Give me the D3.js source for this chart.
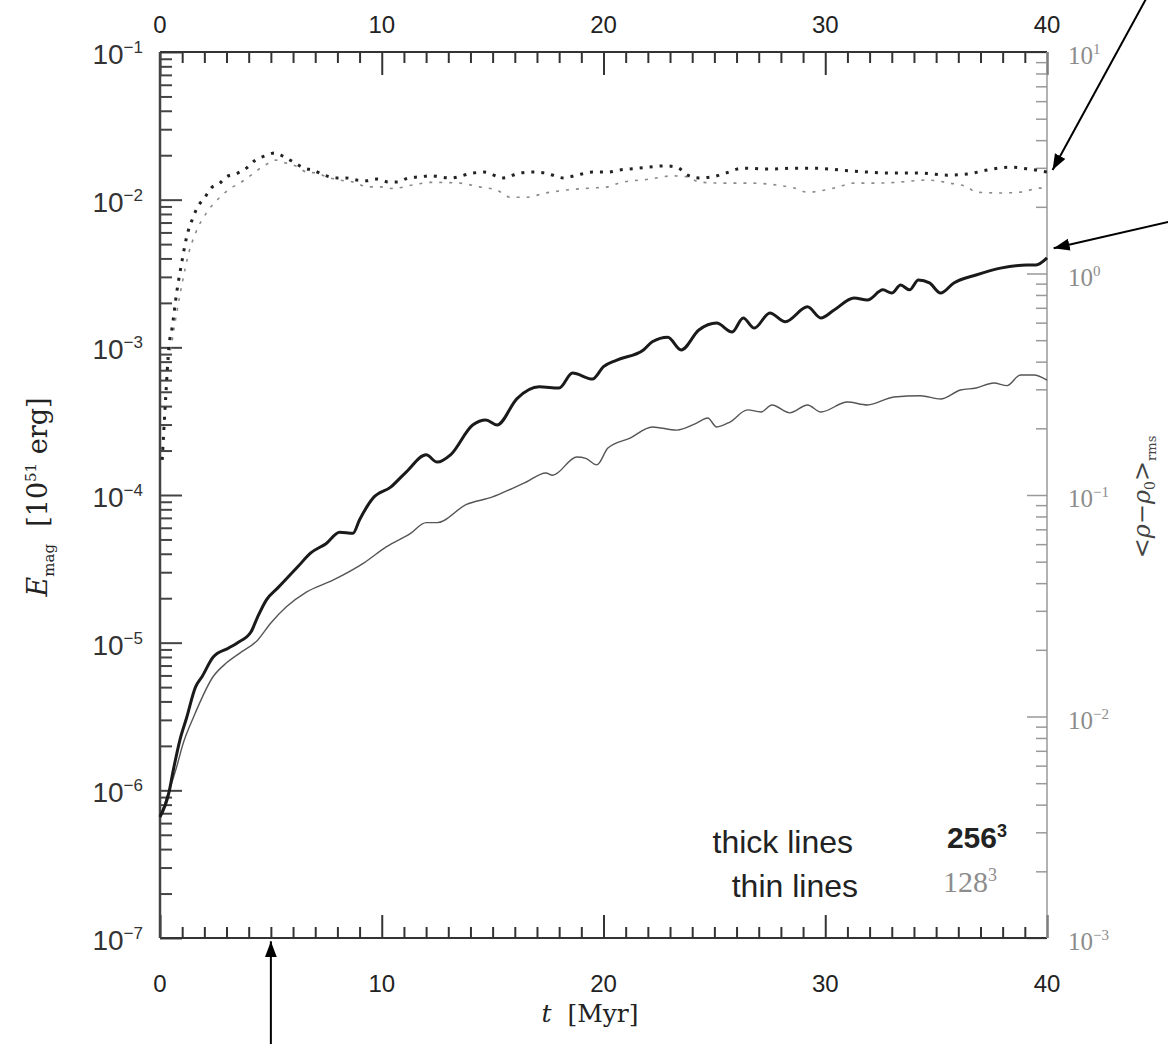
<!DOCTYPE html>
<html>
<head>
<meta charset="utf-8">
<script src="https://cdn.jsdelivr.net/npm/d3@7"></script>
<style>
	body { margin: 0; background: #fff; }
	svg { display: block; }
</style>
</head>
<body>
<div class="canvas"></div>
<script>
// magnetic energy, thick lines = 256^3, thin lines = 128^3 (left axis)
const thickTime = [0,0.4,0.6,0.9,1.2,1.6,1.9,2.4,3.1,3.5,4.1,4.4,4.8,5.3,6.2,6.8,7.5,8.1,8.7,9.0,9.6,10.4,11.1,12.0,12.5,13.1,14.1,14.7,15.2,16.1,17.1,18.0,18.6,19.5,20.0,20.6,21.8,22.2,22.9,23.5,24.3,25.1,25.8,26.3,26.8,27.5,28.2,29.2,29.8,30.4,31.3,31.9,32.6,33.0,33.4,33.8,34.2,34.7,35.2,35.8,36.8,37.9,39.1,39.5,40];
const thickEmag = [6.6e-7,9.6e-7,1.37e-6,2.2e-6,3.1e-6,5.0e-6,5.9e-6,8.0e-6,9.2e-6,1.0e-5,1.18e-5,1.49e-5,1.95e-5,2.34e-5,3.25e-5,4.05e-5,4.7e-5,5.6e-5,5.5e-5,6.8e-5,9.5e-5,1.13e-4,1.43e-4,1.87e-4,1.67e-4,1.87e-4,2.98e-4,3.22e-4,2.98e-4,4.5e-4,5.4e-4,5.3e-4,6.7e-4,6.1e-4,7.4e-4,8.2e-4,9.6e-4,1.09e-3,1.17e-3,9.6e-4,1.31e-3,1.46e-3,1.27e-3,1.58e-3,1.35e-3,1.71e-3,1.49e-3,1.88e-3,1.58e-3,1.79e-3,2.16e-3,2.09e-3,2.45e-3,2.33e-3,2.64e-3,2.45e-3,2.86e-3,2.73e-3,2.33e-3,2.73e-3,3.09e-3,3.44e-3,3.61e-3,3.61e-3,4.03e-3];

const thinTime = [0,0.75,1.05,1.5,2.4,3.0,3.6,4.4,5.0,5.7,6.6,7.8,9.2,10.2,11.3,12.0,12.5,13.8,15.0,15.9,16.5,17.4,17.7,18.8,19.2,19.7,20.2,21.2,22.2,23.3,24.2,24.7,25.1,25.7,26.5,27.1,27.6,28.4,29.2,29.8,31.0,31.9,33.1,34.3,35.2,36.1,36.8,37.6,38.2,38.8,39.4,40];
const thinEmag = [6.6e-7,1.44e-6,2.09e-6,3.1e-6,5.9e-6,7.3e-6,8.5e-6,1.04e-5,1.36e-5,1.75e-5,2.2e-5,2.65e-5,3.47e-5,4.45e-5,5.5e-5,6.5e-5,6.5e-5,8.6e-5,9.7e-5,1.11e-4,1.22e-4,1.41e-4,1.36e-4,1.81e-4,1.77e-4,1.6e-4,2.08e-4,2.43e-4,2.89e-4,2.75e-4,3.07e-4,3.32e-4,2.89e-4,3.12e-4,3.77e-4,3.65e-4,4.07e-4,3.6e-4,4.07e-4,3.65e-4,4.26e-4,4.07e-4,4.61e-4,4.7e-4,4.47e-4,5.14e-4,5.3e-4,5.74e-4,5.5e-4,6.5e-4,6.5e-4,6.0e-4];

// rms density fluctuation (right axis), dotted lines
const rhoThickTime = [0.1,0.25,0.4,0.55,0.75,1.0,1.2,1.5,1.7,2.0,2.3,2.7,3.0,3.5,3.9,4.3,4.7,5.2,5.6,6.1,6.5,6.9,7.4,8.0,8.4,8.9,9.3,9.8,10.3,10.7,11.2,11.7,12.2,13.1,14.1,14.6,15.5,16.2,16.8,17.4,18.2,18.8,19.5,20.2,20.7,21.6,22.8,23.3,23.8,24.3,24.9,25.5,26.3,27.4,28.6,29.5,30.7,31.9,33.1,34.3,35.5,36.4,37.3,38.3,39.2,40];
const rhoThick = [0.144,0.268,0.466,0.573,0.817,1.15,1.46,1.80,2.0,2.19,2.43,2.56,2.73,2.84,2.99,3.25,3.39,3.50,3.36,3.15,2.99,2.93,2.78,2.70,2.70,2.64,2.62,2.67,2.59,2.59,2.70,2.73,2.76,2.70,2.84,2.87,2.70,2.84,2.87,2.84,2.70,2.78,2.87,2.87,2.93,2.99,3.06,3.02,2.78,2.70,2.73,2.84,2.99,2.96,2.99,2.99,2.93,2.87,2.84,2.84,2.78,2.81,2.93,3.02,2.96,2.87];

const rhoThinTime = [0.1,0.3,0.55,0.75,1.0,1.3,1.6,2.1,2.7,3.2,3.6,4.0,4.4,4.9,5.2,5.7,6.2,6.6,7.1,7.5,8.1,8.7,9.4,9.9,10.5,11.4,12.2,13.5,14.4,15.2,15.8,16.5,17.4,18.3,19.4,20.2,20.7,22.1,23.1,23.8,24.3,25.3,26.5,27.8,28.6,29.2,30.4,31.3,32.5,33.4,34.6,35.6,36.4,36.8,37.9,38.8,39.7,40];
const rhoThin = [0.144,0.33,0.50,0.66,0.905,1.24,1.52,1.88,2.21,2.43,2.56,2.73,2.93,3.15,3.25,3.15,3.03,2.87,2.84,2.73,2.64,2.59,2.46,2.46,2.42,2.51,2.58,2.56,2.46,2.38,2.21,2.21,2.31,2.38,2.43,2.46,2.56,2.67,2.76,2.73,2.59,2.56,2.56,2.51,2.43,2.33,2.43,2.56,2.56,2.59,2.64,2.56,2.46,2.33,2.31,2.33,2.43,2.43];

// tick labels
const xTicks = [0, 10, 20, 30, 40];
const leftExp = [-1, -2, -3, -4, -5, -6, -7];
const rightExp = [1, 0, -1, -2, -3];

// annotation arrows, in data coordinates
const arrows = [
	{x1: 44.55, v1: 18, x2: 40.25, v2: 2.93, axis: 'right'},
	{x1: 45.6, v1: 1.72, x2: 40.3, v2: 1.3, axis: 'right'},
	{x1: 5, v1: 1.9e-8, x2: 5, v2: 9.5e-8, axis: 'left'}
];

const dims = {width: 1168, height: 1044};
const margin = {top: 52, right: 121, bottom: 106, left: 160};
const innerW = dims.width - margin.left - margin.right;
const innerH = dims.height - margin.top - margin.bottom;

const svg = d3.select('.canvas')
	.append('svg')
	.attr('width', dims.width)
	.attr('height', dims.height);

const defs = svg.append('defs');
defs.append('marker')
	.attr('id', 'head')
	.attr('markerUnits', 'userSpaceOnUse')
	.attr('markerWidth', 18).attr('markerHeight', 14)
	.attr('refX', 16).attr('refY', 6)
	.attr('orient', 'auto')
	.append('path')
		.attr('d', 'M0,0 L16,6 L0,12 Z')
		.attr('fill', '#000');

const graph = svg.append('g')
	.attr('transform', `translate(${margin.left}, ${margin.top})`);

const x = d3.scaleLinear().domain([0, 40]).range([0, innerW]);
const yL = d3.scaleLog().domain([1e-7, 1e-1]).range([innerH, 0]);
const yR = d3.scaleLog().domain([1e-3, 1e1]).range([innerH, 0]);

const isPow = d => Math.abs(Math.log10(d) - Math.round(Math.log10(d))) < 1e-6;
const xMinor = d3.range(0, 41).filter(d => d % 10 !== 0);
const lMinor = yL.ticks().filter(d => !isPow(d));
const rMinor = yR.ticks().filter(d => !isPow(d));

// draw a set of ticks, no domain line
const ticks = (axis, transform, colour, width) => {
	const g = graph.append('g')
		.attr('transform', transform)
		.call(axis.tickFormat('').tickSizeOuter(0));
	g.select('.domain').remove();
	g.selectAll('line').attr('stroke', colour).attr('stroke-width', width);
};

ticks(d3.axisBottom(x).tickValues(xMinor).tickSizeInner(-11), `translate(0, ${innerH})`, '#333', 2);
ticks(d3.axisBottom(x).tickValues(xTicks).tickSizeInner(-23), `translate(0, ${innerH})`, '#333', 2);
ticks(d3.axisTop(x).tickValues(xMinor).tickSizeInner(-11), 'translate(0, 0)', '#333', 2);
ticks(d3.axisTop(x).tickValues(xTicks).tickSizeInner(-23), 'translate(0, 0)', '#333', 2);
ticks(d3.axisLeft(yL).tickValues(lMinor).tickSizeInner(-12), 'translate(0, 0)', '#444', 2);
ticks(d3.axisLeft(yL).tickValues(leftExp.map(e => Math.pow(10, e))).tickSizeInner(-22), 'translate(0, 0)', '#444', 2);
ticks(d3.axisRight(yR).tickValues(rMinor).tickSizeInner(-11), `translate(${innerW}, 0)`, '#999', 1.5);
ticks(d3.axisRight(yR).tickValues(rightExp.map(e => Math.pow(10, e))).tickSizeInner(-20), `translate(${innerW}, 0)`, '#999', 1.5);

// frame
graph.append('line').attr('x1', 0).attr('x2', innerW).attr('y1', 0).attr('y2', 0)
	.attr('stroke', '#333').attr('stroke-width', 2);
graph.append('line').attr('x1', 0).attr('x2', innerW).attr('y1', innerH).attr('y2', innerH)
	.attr('stroke', '#333').attr('stroke-width', 2);
graph.append('line').attr('x1', 0).attr('x2', 0).attr('y1', 0).attr('y2', innerH)
	.attr('stroke', '#444').attr('stroke-width', 2.5);
graph.append('line').attr('x1', innerW).attr('x2', innerW).attr('y1', 0).attr('y2', innerH)
	.attr('stroke', '#999').attr('stroke-width', 1.5);

// x tick labels, bottom and top
const sans = 'Liberation Sans, Arial, sans-serif';
const serif = 'DejaVu Serif, serif';

[innerH + 54, -19].forEach(yy => {
	graph.append('g').selectAll('text')
		.data(xTicks)
		.enter()
		.append('text')
			.attr('x', d => x(d))
			.attr('y', yy)
			.attr('text-anchor', 'middle')
			.attr('font-family', sans)
			.attr('font-size', 24)
			.attr('fill', '#222')
			.text(d => d);
});

// power-of-ten label
const powLabel = (sel, size, supSize, lift) => {
	sel.append('tspan').text('10');
	sel.append('tspan')
		.attr('dy', -lift)
		.attr('font-size', supSize)
		.text(d => (d < 0 ? '\u2212' : '') + Math.abs(d));
};

graph.append('g').selectAll('text')
	.data(leftExp)
	.enter()
	.append('text')
		.attr('x', -17)
		.attr('y', d => yL(Math.pow(10, d)) + 12)
		.attr('text-anchor', 'end')
		.attr('font-family', sans)
		.attr('font-size', 28)
		.attr('fill', '#333')
		.call(powLabel, 28, 17, 11);

graph.append('g').selectAll('text')
	.data(rightExp)
	.enter()
	.append('text')
		.attr('x', innerW + 21)
		.attr('y', d => yR(Math.pow(10, d)) + 12)
		.attr('text-anchor', 'start')
		.attr('font-family', 'Liberation Serif, serif')
		.attr('font-size', 25)
		.attr('fill', '#8c8c8c')
		.call(powLabel, 25, 15, 10);

// curves
const line = (scale) => d3.line()
	.x(d => x(d[0]))
	.y(d => scale(d[1]))
	.curve(d3.curveMonotoneX);

const series = [
	{t: rhoThinTime, v: rhoThin, scale: yR, stroke: '#8a8a8a', width: 1.6, dash: '3,7'},
	{t: rhoThickTime, v: rhoThick, scale: yR, stroke: '#222', width: 3, dash: '3,7'},
	{t: thinTime, v: thinEmag, scale: yL, stroke: '#555', width: 1.4, dash: null},
	{t: thickTime, v: thickEmag, scale: yL, stroke: '#1a1a1a', width: 3, dash: null}
];

graph.selectAll('.curve')
	.data(series)
	.enter()
	.append('path')
		.attr('class', 'curve')
		.attr('fill', 'none')
		.attr('stroke', d => d.stroke)
		.attr('stroke-width', d => d.width)
		.attr('stroke-dasharray', d => d.dash)
		.attr('stroke-linejoin', 'round')
		.attr('d', d => line(d.scale)(d3.zip(d.t, d.v)));

// legend
graph.append('text')
	.attr('x', innerW - 194).attr('y', 801)
	.attr('text-anchor', 'end')
	.attr('font-family', sans).attr('font-size', 32).attr('fill', '#222')
	.text('thick lines');
graph.append('text')
	.attr('x', innerW - 189).attr('y', 845)
	.attr('text-anchor', 'end')
	.attr('font-family', sans).attr('font-size', 32).attr('fill', '#222')
	.text('thin lines');

const l1 = graph.append('text')
	.attr('x', innerW - 40).attr('y', 796)
	.attr('text-anchor', 'end')
	.attr('font-family', sans).attr('font-size', 30).attr('font-weight', 'bold').attr('fill', '#222');
l1.append('tspan').text('256');
l1.append('tspan').attr('dy', -11).attr('font-size', 18).text('3');

const l2 = graph.append('text')
	.attr('x', innerW - 50).attr('y', 840)
	.attr('text-anchor', 'end')
	.attr('font-family', 'Liberation Serif, serif').attr('font-size', 30).attr('fill', '#8c8c8c');
l2.append('tspan').text('128');
l2.append('tspan').attr('dy', -11).attr('font-size', 18).text('3');

// axis titles
const yTitle = svg.append('text')
	.attr('transform', 'translate(47, 497) rotate(-90)')
	.attr('text-anchor', 'middle')
	.attr('font-family', serif).attr('font-size', 27).attr('fill', '#222');
yTitle.append('tspan').attr('font-style', 'italic').text('E');
yTitle.append('tspan').attr('dy', 7).attr('font-size', 15).text('mag');
yTitle.append('tspan').attr('dy', -7).text('\u00a0 [10');
yTitle.append('tspan').attr('dy', -11).attr('font-size', 15).text('51');
yTitle.append('tspan').attr('dy', 11).text('\u00a0erg]');

const xTitle = svg.append('text')
	.attr('x', 590).attr('y', 1022)
	.attr('text-anchor', 'middle')
	.attr('font-family', serif).attr('font-size', 25).attr('fill', '#222');
xTitle.append('tspan').attr('font-style', 'italic').text('t');
xTitle.append('tspan').text('\u00a0 [Myr]');

const rTitle = svg.append('text')
	.attr('transform', 'translate(1150, 497) rotate(-90)')
	.attr('text-anchor', 'middle')
	.attr('font-family', serif).attr('font-size', 24).attr('fill', '#444');
rTitle.append('tspan').text('<');
rTitle.append('tspan').attr('font-style', 'italic').text('\u03c1');
rTitle.append('tspan').text('\u2212');
rTitle.append('tspan').attr('font-style', 'italic').text('\u03c1');
rTitle.append('tspan').attr('dy', 5).attr('font-size', 14).text('0');
rTitle.append('tspan').attr('dy', -5).text('>');
rTitle.append('tspan').attr('dy', 6).attr('font-size', 13).text('rms');

// arrows
graph.selectAll('.arrow')
	.data(arrows)
	.enter()
	.append('line')
		.attr('class', 'arrow')
		.attr('x1', d => x(d.x1))
		.attr('y1', d => (d.axis === 'right' ? yR : yL)(d.v1))
		.attr('x2', d => x(d.x2))
		.attr('y2', d => (d.axis === 'right' ? yR : yL)(d.v2))
		.attr('stroke', '#000')
		.attr('stroke-width', 2)
		.attr('marker-end', 'url(#head)');
</script>
</body>
</html>
